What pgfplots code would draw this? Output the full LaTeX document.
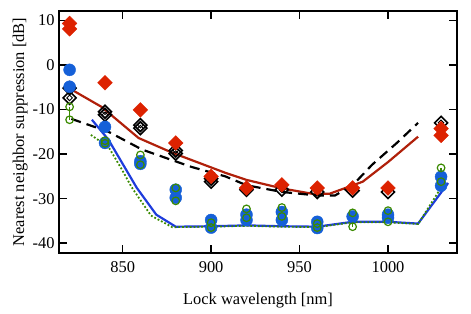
\documentclass[border=0pt]{standalone}
\usepackage{pgfplots}
\pgfplotsset{compat=1.18}
\usepackage{fontspec}
\setmainfont{Liberation Serif}
\definecolor{rdia}{HTML}{DD2200}
\definecolor{rline}{HTML}{B0200A}
\definecolor{bdot}{HTML}{1560D8}
\definecolor{bline}{HTML}{1E3CDC}
\definecolor{gr}{HTML}{3A8A00}
\begin{document}
\begin{tikzpicture}
\begin{axis}[
  width=398bp, height=242bp, scale only axis,
  xmin=814, xmax=1039, ymin=-42.2, ymax=12.1,
  xtick={850,900,950,1000}, ytick={-40,-30,-20,-10,0,10},
  yticklabels={-40,-30,-20,-10,0,10},
  tick align=inside, tick pos=both,
  major tick length=8bp,
  axis line style={line width=1.6pt}, every tick/.style={line width=1.6pt, black},
  font=\fontsize{16.5}{19}\selectfont,
  /pgf/number format/assume math mode=true,
  /pgf/number format/set thousands separator={},
  xlabel={Lock wavelength [nm]}, ylabel={Nearest neighbor suppression [dB]},
  xticklabel style={yshift=-5bp},
  yticklabel style={xshift=-1bp},
  xlabel style={yshift=-14bp}, ylabel style={yshift=-2bp},
  unbounded coords=jump, clip=false,
]
\coordinate (O) at (rel axis cs:0,0);
% model lines
\addplot[rline, line width=2.2pt, no marks] coordinates {(819.6,-5.2) (838,-9.4) (859,-16.4) (878,-19.7) (908,-24.2) (920,-25.8) (940,-27.7) (957,-28.9) (967,-28.9) (985.7,-26.2) (1000,-21.8) (1017,-16.1)};
\addplot[black, line width=2.2pt, dash pattern=on 10bp off 6bp, no marks] coordinates {(821,-12.1) (842,-15) (861,-19) (889,-22.9) (908,-25) (920,-27) (940,-28.5) (960,-29.3) (970,-29.3) (980,-27) (991,-22.4) (1005,-17.5) (1017,-13)};
\addplot[bline, line width=2.2pt, no marks] coordinates {(832.6,-12.3) (842,-16.8) (858,-27.6) (869,-33.6) (880,-36.3) (900,-36.2) (920,-36.0) (940,-36.2) (960,-36.3) (980,-35.2) (1000,-35.2) (1017,-35.6) (1034,-26.5)};
\addplot[gr, line width=1.8pt, dotted, no marks] coordinates {(832,-15.7) (842,-18.4) (849.6,-23.5) (855,-27.4) (866,-33.8) (878,-36.4) (900,-36.3) (920,-36.1) (940,-36.3) (960,-36.4) (980,-35.3) (1000,-35.3) (1017,-35.7) (1032,-26.3)};
% black open diamonds
\addplot[only marks, black, mark=square, mark options={rotate=45}, mark size=4.6bp, line width=1.6pt] coordinates {(820,-5.2) (820,-7.4) (840,-10.5) (840,-11.2) (860,-13.5) (860,-14.2) (880,-19.2) (880,-19.9) (900,-25.5) (900,-26.2) (920,-28) (940,-28) (960,-28.5) (980,-28.2) (1000,-28.5) (1030,-13)};
\addplot[only marks, black, mark=square, mark options={rotate=45}, mark size=2bp, line width=0.9pt] coordinates {(820,-5.2) (820,-7.4) (840,-10.5) (840,-11.2) (860,-13.5) (860,-14.2) (880,-19.2) (880,-19.9) (900,-25.5) (900,-26.2) (920,-28) (940,-28) (960,-28.5) (980,-28.2) (1000,-28.5) (1030,-13)};
% red diamonds
\addplot[only marks, rdia, mark=square*, mark options={rotate=45}, mark size=5.2bp] coordinates {(820,9.3) (820,8.1) (840,-4.0) (860,-10.1) (880,-17.5) (900,-25.0) (920,-27.6) (940,-26.9) (960,-27.6) (980,-27.6) (1000,-27.6) (1030,-14.3) (1030,-15.8)};
% blue circles
\addplot[only marks, bdot, mark=*, mark size=6bp] coordinates {(820,-1.1) (820,-4.9) (840,-13.9) (840,-17.5) (860,-21.6) (860,-22.2) (880,-28) (880,-29.8) (900,-34.8) (900,-36.5) (920,-33.6) (920,-34.8) (940,-33) (940,-34.8) (960,-35.2) (960,-36.6) (980,-34) (1000,-33.6) (1000,-34.3) (1030,-25.1) (1030,-27.1)};
% green pairs
\addplot[gr, mark=o, mark size=3.8bp, line width=1.2pt] coordinates {(820,-9.4) (820,-12.3) (825,nan) (840,-17) (840,-17.6) (845,nan) (860,-20.2) (860,-22.4) (865,nan) (880,-27.6) (880,-30.5) (885,nan) (900,-35.4) (900,-36.5) (905,nan) (920,-32.3) (920,-34.3) (925,nan) (940,-32) (940,-34) (945,nan) (960,-35.6) (960,-36.5) (965,nan) (980,-33.2) (980,-36.3) (985,nan) (1000,-32.7) (1000,-35.2) (1005,nan) (1030,-23.1) (1030,-26.2)};
\end{axis}
\pgfresetboundingbox
\useasboundingbox (O) ++(-59bp,-61bp) rectangle ++(471bp,314bp);
\end{tikzpicture}
\end{document}
